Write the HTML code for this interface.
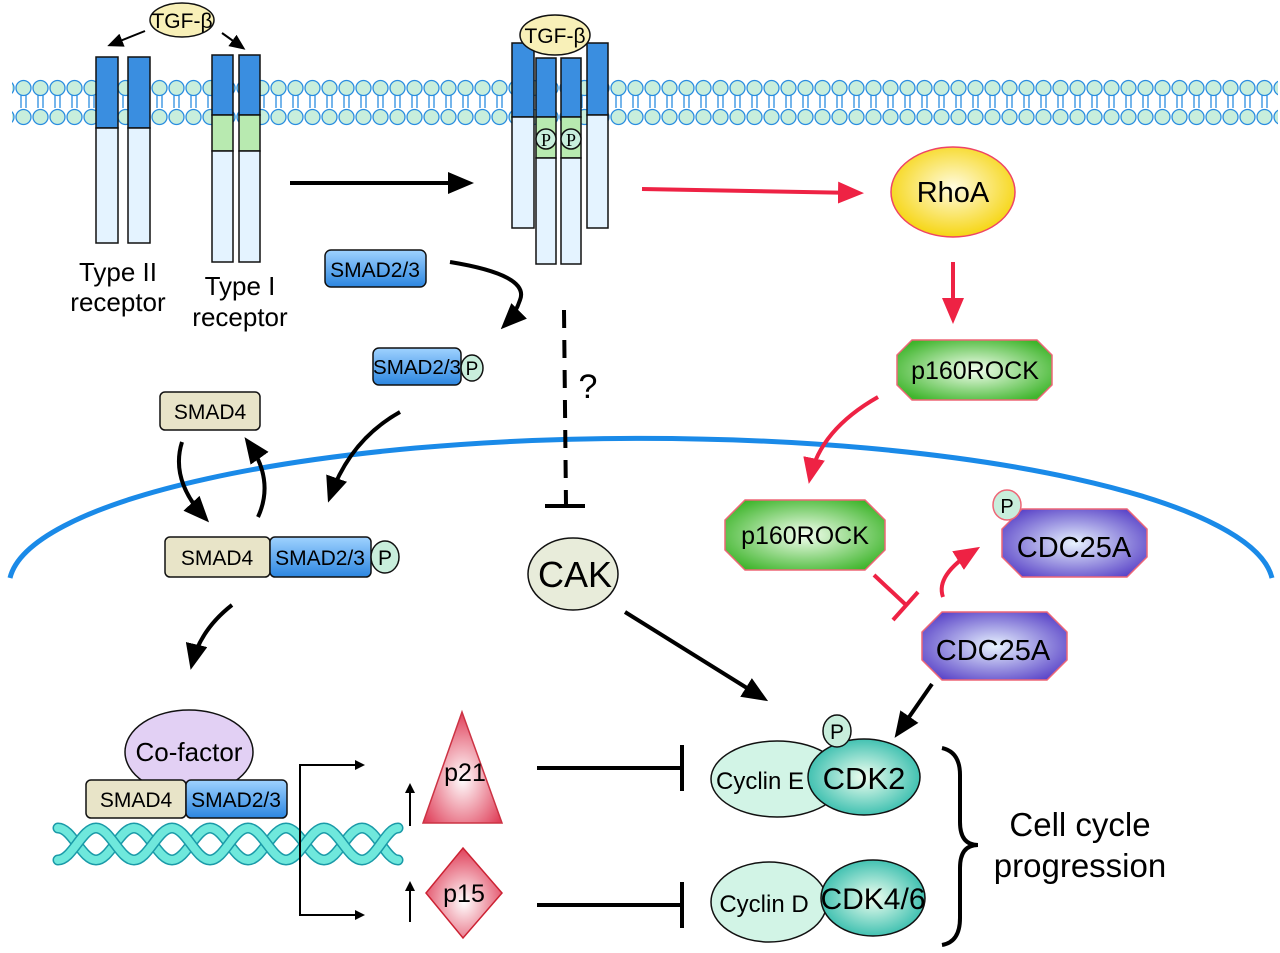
<!DOCTYPE html>
<html><head><meta charset="utf-8"><style>
html,body{margin:0;padding:0;background:#fff;}
svg{display:block;font-family:"Liberation Sans",Arial,sans-serif;}
</style></head><body>
<svg width="1280" height="953" viewBox="0 0 1280 953" xmlns="http://www.w3.org/2000/svg">
<defs>
<radialGradient id="gG" cx="50%" cy="50%" r="60%"><stop offset="0" stop-color="#f4fff0"/><stop offset="1" stop-color="#3fb52c"/></radialGradient>
<radialGradient id="gP" cx="50%" cy="50%" r="60%"><stop offset="0" stop-color="#e8f3ff"/><stop offset="1" stop-color="#5b45c8"/></radialGradient>
<radialGradient id="gY" cx="50%" cy="45%" r="60%"><stop offset="0" stop-color="#fffbe0"/><stop offset="1" stop-color="#f5d200"/></radialGradient>
<radialGradient id="gT" cx="50%" cy="50%" r="60%"><stop offset="0" stop-color="#f0fff0"/><stop offset="1" stop-color="#1fb5a5"/></radialGradient>
<radialGradient id="gR" cx="50%" cy="60%" r="60%"><stop offset="0" stop-color="#fff"/><stop offset="1" stop-color="#e0405a"/></radialGradient>
<linearGradient id="gB" x1="0" y1="0" x2="0" y2="1"><stop offset="0" stop-color="#9fd2ff"/><stop offset="1" stop-color="#2c86e0"/></linearGradient>
<marker id="ab" markerWidth="10" markerHeight="10" refX="7" refY="5" orient="auto" markerUnits="userSpaceOnUse" viewBox="0 0 10 10"><path d="M0,0 L10,5 L0,10 z" fill="#000"/></marker>
<marker id="abB" markerWidth="26" markerHeight="22" refX="20" refY="11" orient="auto" markerUnits="userSpaceOnUse"><path d="M0,0 L26,11 L0,22 z" fill="#000"/></marker>
<marker id="abS" markerWidth="16" markerHeight="14" refX="13" refY="7" orient="auto" markerUnits="userSpaceOnUse"><path d="M0,0 L16,7 L0,14 z" fill="#000"/></marker>
<marker id="ar" markerWidth="26" markerHeight="22" refX="20" refY="11" orient="auto" markerUnits="userSpaceOnUse"><path d="M0,0 L26,11 L0,22 z" fill="#ee2244"/></marker>
<pattern id="mem" x="15" y="0" width="17" height="130" patternUnits="userSpaceOnUse">
<line x1="6" y1="95" x2="6" y2="108" stroke="#2a8de0" stroke-width="1.3"/>
<line x1="11" y1="95" x2="11" y2="108" stroke="#2a8de0" stroke-width="1.3"/>
<circle cx="8.5" cy="88" r="7.5" fill="#c8eedc" stroke="#2a8de0" stroke-width="1.3"/>
<circle cx="8.5" cy="117" r="7.5" fill="#c8eedc" stroke="#2a8de0" stroke-width="1.3"/>
</pattern>
</defs>

<rect x="12" y="78" width="1266" height="50" fill="url(#mem)"/>
<path d="M10,578 A632,148 0 0 1 1272,578" fill="none" stroke="#1a8ae8" stroke-width="5"/>

<g stroke="#111" stroke-width="1.5">
<rect x="96" y="57" width="22" height="71" fill="#3a8ee0"/><rect x="96" y="128" width="22" height="115" fill="#e4f3ff"/>
<rect x="128" y="57" width="22" height="71" fill="#3a8ee0"/><rect x="128" y="128" width="22" height="115" fill="#e4f3ff"/>
<rect x="212" y="55" width="21" height="60" fill="#3a8ee0"/><rect x="212" y="115" width="21" height="36" fill="#b8eab0"/><rect x="212" y="151" width="21" height="111" fill="#e4f3ff"/>
<rect x="239" y="55" width="21" height="60" fill="#3a8ee0"/><rect x="239" y="115" width="21" height="36" fill="#b8eab0"/><rect x="239" y="151" width="21" height="111" fill="#e4f3ff"/>
<rect x="512" y="43" width="22" height="74" fill="#3a8ee0"/><rect x="512" y="117" width="22" height="111" fill="#e4f3ff"/>
<rect x="587" y="43" width="21" height="72" fill="#3a8ee0"/><rect x="587" y="115" width="21" height="113" fill="#e4f3ff"/>
<rect x="536" y="58" width="20" height="59" fill="#3a8ee0"/><rect x="536" y="117" width="20" height="41" fill="#b8eab0"/><rect x="536" y="158" width="20" height="106" fill="#e4f3ff"/>
<rect x="561" y="58" width="20" height="59" fill="#3a8ee0"/><rect x="561" y="117" width="20" height="41" fill="#b8eab0"/><rect x="561" y="158" width="20" height="106" fill="#e4f3ff"/>
</g>
<circle cx="546" cy="139" r="10" fill="#c8eedc" stroke="#111" stroke-width="1.5"/>
<circle cx="571" cy="139" r="10" fill="#c8eedc" stroke="#111" stroke-width="1.5"/>
<text x="546" y="146" font-family="Liberation Serif,serif" font-size="18" text-anchor="middle">P</text>
<text x="571" y="146" font-family="Liberation Serif,serif" font-size="18" text-anchor="middle">P</text>

<ellipse cx="182" cy="20" rx="32" ry="17" fill="#f8f0b8" stroke="#111" stroke-width="1.5"/>
<text x="182" y="28" font-size="21" text-anchor="middle">TGF-β</text>
<ellipse cx="555" cy="35" rx="35" ry="20" fill="#f8f0b8" stroke="#111" stroke-width="1.5"/>
<text x="555" y="43" font-size="21" text-anchor="middle">TGF-β</text>
<line x1="145" y1="31" x2="110" y2="45" stroke="#000" stroke-width="2" marker-end="url(#abS)"/>
<line x1="222" y1="33" x2="243" y2="48" stroke="#000" stroke-width="2" marker-end="url(#abS)"/>

<text x="118" y="281" font-size="26" text-anchor="middle">Type II</text>
<text x="118" y="311" font-size="26" text-anchor="middle">receptor</text>
<text x="240" y="295" font-size="26" text-anchor="middle">Type I</text>
<text x="240" y="326" font-size="26" text-anchor="middle">receptor</text>

<line x1="290" y1="183" x2="468" y2="183" stroke="#000" stroke-width="4" marker-end="url(#abB)"/>
<line x1="642" y1="189" x2="858" y2="193" stroke="#ee2244" stroke-width="4" marker-end="url(#ar)"/>

<ellipse cx="953" cy="192" rx="62" ry="45" fill="url(#gY)" stroke="#ee4466" stroke-width="1.5"/>
<text x="953" y="202" font-size="29" text-anchor="middle">RhoA</text>
<line x1="953" y1="262" x2="953" y2="318" stroke="#ee2244" stroke-width="4" marker-end="url(#ar)"/>

<polygon points="912,340 1037,340 1052,355 1052,385 1037,400 912,400 897,385 897,355" fill="url(#gG)" stroke="#ee6677" stroke-width="1.5"/>
<text x="975" y="379" font-size="25" text-anchor="middle">p160ROCK</text>
<path d="M878,397 Q820,430 810,478" fill="none" stroke="#ee2244" stroke-width="4" marker-end="url(#ar)"/>
<polygon points="745,500 865,500 885,520 885,550 865,570 745,570 725,550 725,520" fill="url(#gG)" stroke="#ee6677" stroke-width="1.5"/>
<text x="805" y="544" font-size="25" text-anchor="middle">p160ROCK</text>

<polygon points="1022,509 1127,509 1147,529 1147,557 1127,577 1022,577 1002,557 1002,529" fill="url(#gP)" stroke="#ee6677" stroke-width="1.5"/>
<text x="1074" y="557" font-size="29" text-anchor="middle">CDC25A</text>
<ellipse cx="1007" cy="505" rx="14" ry="15" fill="#c8eedc" stroke="#ee6677" stroke-width="1.5"/>
<text x="1007" y="513" font-size="20" text-anchor="middle">P</text>

<polygon points="942,612 1047,612 1067,632 1067,660 1047,680 942,680 922,660 922,632" fill="url(#gP)" stroke="#ee6677" stroke-width="1.5"/>
<text x="993" y="660" font-size="29" text-anchor="middle">CDC25A</text>

<line x1="874" y1="575" x2="905" y2="604" stroke="#ee2244" stroke-width="4"/>
<line x1="893" y1="620" x2="918" y2="592" stroke="#ee2244" stroke-width="4"/>
<path d="M943,597 Q935,575 975,550" fill="none" stroke="#ee2244" stroke-width="4" marker-end="url(#ar)"/>

<rect x="325" y="250" width="101" height="37" rx="6" fill="url(#gB)" stroke="#111" stroke-width="1.5"/>
<text x="375" y="277" font-size="21" text-anchor="middle">SMAD2/3</text>
<path d="M450,262 Q530,275 520,300 Q515,315 505,325" fill="none" stroke="#000" stroke-width="4" marker-end="url(#abB)"/>

<rect x="373" y="348" width="88" height="37" rx="6" fill="url(#gB)" stroke="#111" stroke-width="1.5"/>
<text x="417" y="374" font-size="20" text-anchor="middle" textLength="88" lengthAdjust="spacingAndGlyphs">SMAD2/3</text>
<ellipse cx="472" cy="368" rx="11" ry="13" fill="#c8eedc" stroke="#111" stroke-width="1.5"/>
<text x="472" y="375" font-size="19" text-anchor="middle">P</text>

<path d="M400,412 Q350,440 330,497" fill="none" stroke="#000" stroke-width="4" marker-end="url(#abB)"/>

<rect x="160" y="392" width="100" height="38" rx="5" fill="#e8e4c8" stroke="#111" stroke-width="1.5"/>
<text x="210" y="419" font-size="21" text-anchor="middle">SMAD4</text>
<path d="M182,442 Q170,480 205,518" fill="none" stroke="#000" stroke-width="4" marker-end="url(#abB)"/>
<path d="M258,517 Q275,480 248,442" fill="none" stroke="#000" stroke-width="4" marker-end="url(#abB)"/>

<rect x="165" y="537" width="105" height="40" rx="5" fill="#e8e4c8" stroke="#111" stroke-width="1.5"/>
<text x="217" y="565" font-size="21" text-anchor="middle">SMAD4</text>
<rect x="270" y="537" width="101" height="40" rx="5" fill="url(#gB)" stroke="#111" stroke-width="1.5"/>
<text x="320" y="565" font-size="21" text-anchor="middle">SMAD2/3</text>
<ellipse cx="385" cy="557" rx="14" ry="16" fill="#c8eedc" stroke="#111" stroke-width="1.5"/>
<text x="385" y="565" font-size="21" text-anchor="middle">P</text>

<path d="M232,605 Q200,630 192,664" fill="none" stroke="#000" stroke-width="4" marker-end="url(#abB)"/>

<line x1="564" y1="310" x2="566" y2="505" stroke="#000" stroke-width="4" stroke-dasharray="18,12"/>
<line x1="545" y1="506" x2="585" y2="506" stroke="#000" stroke-width="4"/>
<text x="588" y="398" font-size="34" text-anchor="middle">?</text>

<ellipse cx="573" cy="574" rx="45" ry="36" fill="#e8ecda" stroke="#111" stroke-width="1.5"/>
<text x="575" y="587" font-size="36" text-anchor="middle">CAK</text>
<line x1="625" y1="612" x2="763" y2="698" stroke="#000" stroke-width="4" marker-end="url(#abB)"/>
<line x1="932" y1="684" x2="898" y2="733" stroke="#000" stroke-width="4" marker-end="url(#abB)"/>

<g fill="none" stroke-linecap="round">
<path d="M58,828 C72,828 82,860 96,860 C110,860 120,828 134,828 C148,828 158,860 172,860 C186,860 196,828 210,828 C224,828 234,860 248,860 C262,860 272,828 286,828 C300,828 310,860 324,860 C338,860 348,828 362,828 C376,828 386,860 398,860" stroke="#1a9aa8" stroke-width="11"/>
<path d="M58,828 C72,828 82,860 96,860 C110,860 120,828 134,828 C148,828 158,860 172,860 C186,860 196,828 210,828 C224,828 234,860 248,860 C262,860 272,828 286,828 C300,828 310,860 324,860 C338,860 348,828 362,828 C376,828 386,860 398,860" stroke="#6fe8dc" stroke-width="8"/>
<path d="M58,860 C72,860 82,828 96,828 C110,828 120,860 134,860 C148,860 158,828 172,828 C186,828 196,860 210,860 C224,860 234,828 248,828 C262,828 272,860 286,860 C300,860 310,828 324,828 C338,828 348,860 362,860 C376,860 386,828 398,828" stroke="#1a9aa8" stroke-width="11"/>
<path d="M58,860 C72,860 82,828 96,828 C110,828 120,860 134,860 C148,860 158,828 172,828 C186,828 196,860 210,860 C224,860 234,828 248,828 C262,828 272,860 286,860 C300,860 310,828 324,828 C338,828 348,860 362,860 C376,860 386,828 398,828" stroke="#6fe8dc" stroke-width="8"/>
</g>
<ellipse cx="189" cy="752" rx="64" ry="42" fill="#e2d0f4" stroke="#111" stroke-width="1.5"/>
<text x="189" y="761" font-size="26" text-anchor="middle">Co-factor</text>
<rect x="86" y="780" width="100" height="38" rx="5" fill="#e8e4c8" stroke="#111" stroke-width="1.5"/>
<text x="136" y="807" font-size="21" text-anchor="middle">SMAD4</text>
<rect x="186" y="780" width="101" height="38" rx="5" fill="url(#gB)" stroke="#111" stroke-width="1.5"/>
<text x="236" y="807" font-size="21" text-anchor="middle">SMAD2/3</text>

<path d="M300,840 L300,765 L362,765" fill="none" stroke="#000" stroke-width="2" marker-end="url(#ab)"/>
<path d="M300,840 L300,915 L362,915" fill="none" stroke="#000" stroke-width="2" marker-end="url(#ab)"/>

<line x1="410" y1="826" x2="410" y2="786" stroke="#000" stroke-width="2" marker-end="url(#ab)"/>
<line x1="410" y1="922" x2="410" y2="884" stroke="#000" stroke-width="2" marker-end="url(#ab)"/>
<polygon points="462,712 502,823 423,823" fill="url(#gR)" stroke="#cc3344" stroke-width="1.5"/>
<text x="465" y="781" font-size="25" text-anchor="middle">p21</text>
<polygon points="463,848 502,893 463,938 426,893" fill="url(#gR)" stroke="#cc2233" stroke-width="1.5"/>
<text x="464" y="902" font-size="25" text-anchor="middle">p15</text>

<line x1="537" y1="768" x2="680" y2="768" stroke="#000" stroke-width="4"/>
<line x1="682" y1="745" x2="682" y2="791" stroke="#000" stroke-width="4"/>
<line x1="537" y1="905" x2="680" y2="905" stroke="#000" stroke-width="4"/>
<line x1="682" y1="882" x2="682" y2="928" stroke="#000" stroke-width="4"/>

<ellipse cx="777" cy="779" rx="66" ry="38" fill="#d2f4e6" stroke="#111" stroke-width="1.5"/>
<ellipse cx="864" cy="777" rx="56" ry="38" fill="url(#gT)" stroke="#111" stroke-width="1.5"/>
<text x="760" y="789" font-size="24" text-anchor="middle">Cyclin E</text>
<text x="864" y="789" font-size="31" text-anchor="middle">CDK2</text>
<ellipse cx="837" cy="731" rx="14" ry="16" fill="#c8eedc" stroke="#111" stroke-width="1.5"/>
<text x="837" y="739" font-size="21" text-anchor="middle">P</text>

<ellipse cx="769" cy="902" rx="58" ry="40" fill="#d2f4e6" stroke="#111" stroke-width="1.5"/>
<ellipse cx="873" cy="898" rx="52" ry="38" fill="url(#gT)" stroke="#111" stroke-width="1.5"/>
<text x="764" y="912" font-size="24" text-anchor="middle">Cyclin D</text>
<text x="873" y="909" font-size="30" text-anchor="middle">CDK4/6</text>

<path d="M942,748 Q960,752 960,775 L960,822 Q960,845 978,845 Q960,845 960,868 L960,918 Q960,942 942,945" fill="none" stroke="#000" stroke-width="4"/>
<text x="1080" y="836" font-size="33" text-anchor="middle">Cell cycle</text>
<text x="1080" y="877" font-size="33" text-anchor="middle">progression</text>
</svg>
</body></html>
